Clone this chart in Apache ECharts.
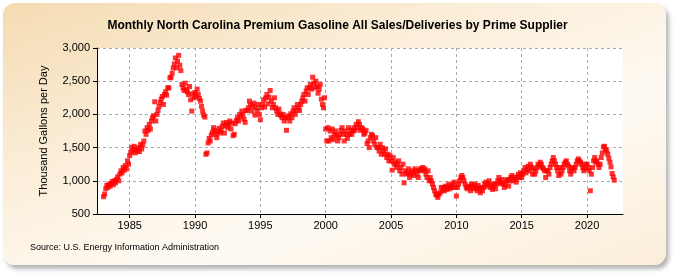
<!DOCTYPE html>
<html>
<head>
<meta charset="utf-8">
<script src="https://cdn.jsdelivr.net/npm/echarts@6/dist/echarts.min.js"></script>
<style>
  html, body { margin: 0; padding: 0; background: #fff; }
  #panel {
    position: absolute; left: 3px; top: 3px; width: 663px; height: 262px;
    border-radius: 12px;
    background: linear-gradient(160deg, #f4dbb2 0%, #fbeed9 35%, #fefaf3 65%, #fbeed9 100%);
    box-shadow: 3px 4px 4px rgba(120, 120, 120, 0.55);
  }
  #chart { position: absolute; left: 0; top: 0; width: 675px; height: 275px; }
</style>
</head>
<body>
<div id="panel"></div>
<div id="chart"></div>
<script>
// monthly values, thousand gallons per day, starting January of the first year
const sales1983to1989 = [
  760, 800, 880, 930, 900, 950, 920, 960, 990, 940, 1000, 970,
  1020, 1060, 1000, 1100, 1150, 1120, 1200, 1160, 1230, 1180, 1300, 1250,
  1380, 1430, 1500, 1460, 1520, 1420, 1470, 1450, 1500, 1440, 1550, 1480,
  1540, 1600, 1750, 1700, 1800, 1760, 1850, 1780, 1900, 1950, 1980, 2190,
  1900, 2000, 2060, 2120, 2180, 2230, 2270, 2150, 2300, 2340, 2290, 2400,
  2400, 2550, 2560, 2620, 2700, 2760, 2850, 2700, 2800, 2890, 2740, 2660,
  2450, 2400, 2360, 2470, 2380, 2340, 2300, 2420, 2220, 2050, 2310, 2250
]
const sales1990to1999 = [
  2330, 2270, 2380, 2300, 2240, 2200, 2120, 2050, 1990, 1960, 1400, 1420,
  1570, 1640, 1600, 1690, 1730, 1800, 1760, 1700, 1650, 1740, 1790, 1720,
  1760, 1820, 1870, 1720, 1830, 1880, 1800, 1850, 1900, 1780, 1870, 1680,
  1700, 1860, 1910, 1950, 1900, 2000, 1960, 2050, 2000, 1930, 1880, 2060,
  2060, 2100, 2200, 2150, 2050, 2120, 2170, 1990, 2100, 2060, 2150, 2000,
  1920, 2100, 2150, 2220, 2110, 2250, 2300, 2160, 2260, 2360, 2200, 2100,
  2150, 2250, 2100, 2050, 2000, 2080, 2010, 1980, 1950, 2000, 1900, 1950,
  1760, 1950, 1980, 1900, 2010, 1950, 2050, 2100, 2000, 2060, 2150, 2100,
  2060, 2150, 2200, 2250, 2300, 2200, 2350, 2400, 2300, 2400, 2450, 2380,
  2560, 2470, 2400, 2500, 2420, 2320, 2380, 2450, 2230, 2150, 2100, 2250
]
const sales2000to2009 = [
  1780, 1600, 1800, 1600, 1750, 1650, 1780, 1620, 1700, 1750, 1680, 1600,
  1650, 1700, 1760, 1800, 1700, 1600, 1750, 1700, 1640, 1800, 1700, 1760,
  1700, 1750, 1800, 1760, 1850, 1800, 1890, 1850, 1760, 1800, 1780, 1700,
  1720, 1760, 1560, 1600, 1500, 1650, 1700, 1680, 1600, 1550, 1650, 1500,
  1500, 1450, 1550, 1400, 1500, 1450, 1400, 1480, 1350, 1400, 1300, 1380,
  1300, 1160, 1350, 1250, 1280, 1200, 1250, 1300, 1150, 1200, 1100, 1250,
  970, 1150, 1100, 1120, 1180, 1050, 1100, 1150, 1120, 1080, 1180, 1150,
  1100, 1050, 1150, 1180, 1170, 1200, 1150, 1180, 1100, 1050, 1150, 1000,
  1050, 1000, 950, 900, 850, 800, 780, 750, 800, 820, 900, 850,
  900, 850, 920, 870, 900, 950, 880, 920, 900, 950, 980, 900
]
const sales2010to2019 = [
  770, 900, 950, 1000, 1050, 1080, 1050, 1000, 950, 900, 880, 920,
  900, 850, 950, 920, 880, 950, 900, 850, 930, 880, 820, 900,
  850, 900, 950, 980, 920, 950, 1000, 900, 950, 870, 920, 950,
  880, 950, 1000, 1050, 980, 960, 1020, 950, 900, 940, 1000, 1020,
  920, 1000, 1050, 1080, 1000, 1050, 1020, 980, 1060, 1100, 1050, 1120,
  1050, 1100, 1150, 1200, 1120, 1180, 1220, 1150, 1250, 1200, 1100, 1180,
  1100, 1150, 1200, 1250, 1220, 1280, 1250, 1200, 1180, 1150, 1050, 1150,
  1150, 1100, 1200, 1250, 1300, 1350, 1300, 1250, 1200, 1150, 1080, 1200,
  1100, 1150, 1200, 1250, 1280, 1300, 1250, 1220, 1150, 1100, 1180, 1200,
  1150, 1200, 1250, 1300, 1330, 1300, 1280, 1250, 1200, 1150, 1180, 1250
]
const sales2020to2022 = [
  1250, 1200, 1150, 850, 1100, 1200, 1300, 1350, 1280, 1300, 1250, 1200,
  1250, 1350, 1420, 1510, 1520, 1470, 1450, 1400, 1340, 1280, 1210, 1110,
  1060, 1010
]
const firstDataYear = 1983
const yTicks = [500, 1000, 1500, 2000, 2500, 3000]
const xTickYears = [1985, 1990, 1995, 2000, 2005, 2010, 2015, 2020]

// month axis runs from Jul 1982 to Oct 2022
const months = []
for (let y = 1982; y <= 2022; y++) {
  for (let m = 1; m <= 12; m++) {
    if (y === 1982 && m < 7) continue
    if (y === 2022 && m > 10) continue
    months.push(y + '-' + (m < 10 ? '0' + m : m))
  }
}
const allSales = [].concat(sales1983to1989, sales1990to1999, sales2000to2009, sales2010to2019, sales2020to2022)
const startIdx = months.indexOf(firstDataYear + '-01')
const seriesData = months.map((m, i) => {
  const k = i - startIdx
  return (k >= 0 && k < allSales.length) ? allSales[k] : null
})

const isTick = (idx, val) => {
  const [y, m] = val.split('-')
  return m === '01' && xTickYears.indexOf(+y) >= 0
}

const chart = echarts.init(document.getElementById('chart'), null, {renderer: 'canvas'})
chart.setOption({
  animation: false,
  title: {
    text: 'Monthly North Carolina Premium Gasoline All Sales/Deliveries by Prime Supplier',
    left: 'center',
    top: 15,
    textStyle: {fontFamily: 'Liberation Sans, Arial', fontSize: 12, fontWeight: 'bold', color: '#000'}
  },
  graphic: [{
    type: 'text',
    left: 30,
    top: 243,
    style: {text: 'Source: U.S. Energy Information Administration', font: '9px "Liberation Sans", Arial', fill: '#000'}
  }],
  grid: {
    left: 97, right: 52, top: 48, bottom: 61,
    show: true, backgroundColor: '#fff', borderWidth: 0
  },
  xAxis: {
    type: 'category',
    data: months,
    boundaryGap: false,
    axisLine: {lineStyle: {color: '#000', width: 1}},
    axisTick: {show: true, interval: isTick, length: 4, lineStyle: {color: '#000'}},
    axisLabel: {
      interval: isTick,
      formatter: v => v.slice(0, 4),
      fontFamily: 'Liberation Sans, Arial', fontSize: 11, color: '#000', margin: 6
    },
    splitLine: {show: true, interval: isTick, lineStyle: {color: '#aaa', type: [3, 3]}}
  },
  yAxis: {
    type: 'value',
    min: yTicks[0],
    max: yTicks[yTicks.length - 1],
    interval: 500,
    name: 'Thousand Gallons per Day',
    nameLocation: 'middle',
    nameGap: 48,
    nameTextStyle: {fontFamily: 'Liberation Sans, Arial', fontSize: 11, color: '#000'},
    axisLine: {show: true, lineStyle: {color: '#000', width: 1}},
    axisTick: {show: true, length: 4, lineStyle: {color: '#000'}},
    axisLabel: {
      formatter: v => v.toLocaleString('en-US'),
      fontFamily: 'Liberation Sans, Arial', fontSize: 11, color: '#000', margin: 7
    },
    splitLine: {show: true, lineStyle: {color: '#aaa', type: [3, 3]}}
  },
  series: [{
    type: 'scatter',
    data: seriesData,
    symbol: 'rect',
    symbolSize: 5,
    itemStyle: {color: '#ff0000'},
    silent: true
  }]
})
</script>
</body>
</html>
